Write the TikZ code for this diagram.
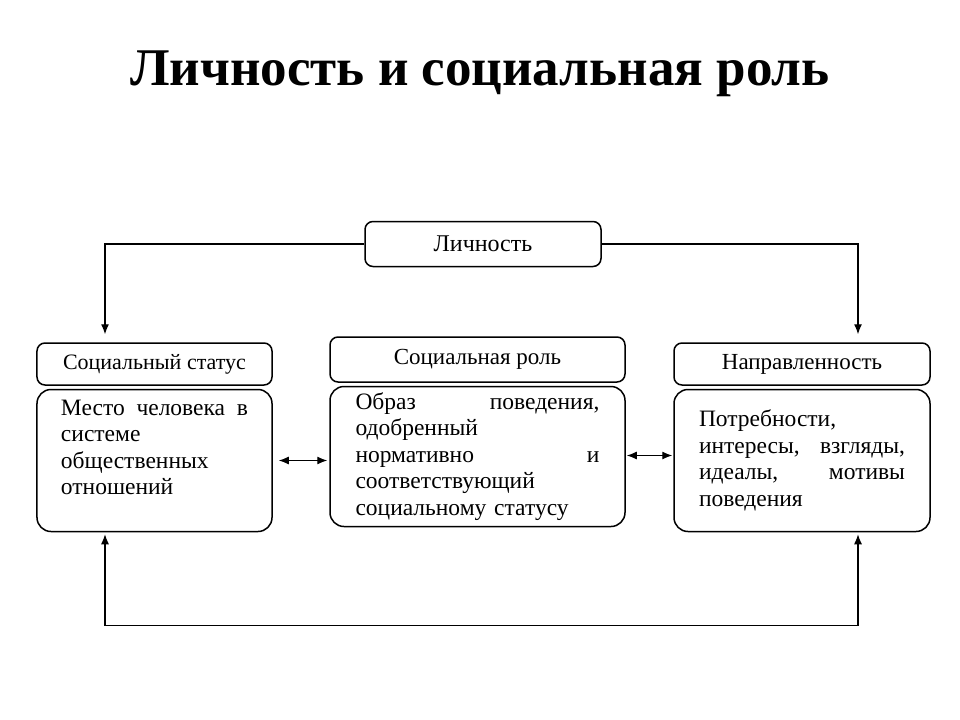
\documentclass[tikz,border=0pt]{standalone}
\usepackage{fontspec}
\setmainfont{Liberation Serif}
\usepackage{tikz}
\usetikzlibrary{arrows.meta}
\usetikzlibrary{positioning}

\tikzset{
	topbox/.style={draw, line width=1.5bp, rounded corners=8bp, minimum width=236bp, minimum height=45bp, inner sep=0pt, font=\fontsize{24bp}{28bp}\selectfont},
	header/.style={draw, line width=1.5bp, rounded corners=8bp, minimum height=42bp, inner sep=0pt, font=\fontsize{23bp}{27bp}\selectfont},
	body/.style={draw, line width=1.5bp, rounded corners=14bp, align=left, inner sep=0pt, font=\fontsize{23.5bp}{26.5bp}\selectfont},
	link/.style={line width=1.2bp, -{Latex[length=10bp,width=8bp]}},
	twoway/.style={line width=1.2bp, {Latex[length=10bp,width=8bp]}-{Latex[length=10bp,width=8bp]}}
}

\begin{document}
\begin{tikzpicture}[x=1bp, y=-1bp]
	\useasboundingbox (0,0) rectangle (960,720);
	\node (title) at (480,74) {\fontsize{53bp}{60bp}\selectfont\bfseries Личность и социальная роль};

	\node[topbox] (person) at (483,244) {Личность};

	\node[header, minimum width=235bp, font=\fontsize{22bp}{26bp}\selectfont] (statusHead) at (154.5,364) {Социальный статус};
	\node[body, minimum width=235bp, minimum height=142bp, text width=187bp] (statusBody) [below=3bp of statusHead]
	{Место \hfill человека \hfill в\\системе\\общественных\\отношений\\\mbox{}};

	\node[header, minimum width=295bp, minimum height=45bp] (roleHead) at (477.5,359.5) {Социальная роль};
	\node[body, minimum width=295bp, minimum height=140bp, text width=244bp] (roleBody) [below=3bp of roleHead]
	{Образ \hfill поведения,\\одобренный\\нормативно \hfill и\\соответствующий\\социальному статусу};

	\node[header, minimum width=256bp] (trendHead) at (802,364) {Направленность};
	\node[body, minimum width=256bp, minimum height=142bp, text width=206bp] (trendBody) [below=3bp of trendHead]
	{Потребности,\\интересы, \hfill взгляды,\\идеалы, \hfill мотивы\\поведения};

	\draw[link, shorten >=8bp] (person.west) -| ([xshift=-49.5bp]statusHead.north);
	\draw[link, shorten >=8bp] (person.east) -| ([xshift=56bp]trendHead.north);
	\draw[twoway, shorten <=2bp, shorten >=2bp] ([xshift=-49.5bp]statusBody.south) -- ++(0,93) -| ([xshift=56bp]trendBody.south);
	\draw[twoway, shorten <=6bp, shorten >=2bp] (statusBody.east) -- (statusBody.east -| roleBody.west);
	\draw[twoway, shorten <=1bp, shorten >=1bp] ([yshift=1bp]roleBody.east) -- ([yshift=1bp]roleBody.east -| trendBody.west);
\end{tikzpicture}
\end{document}
